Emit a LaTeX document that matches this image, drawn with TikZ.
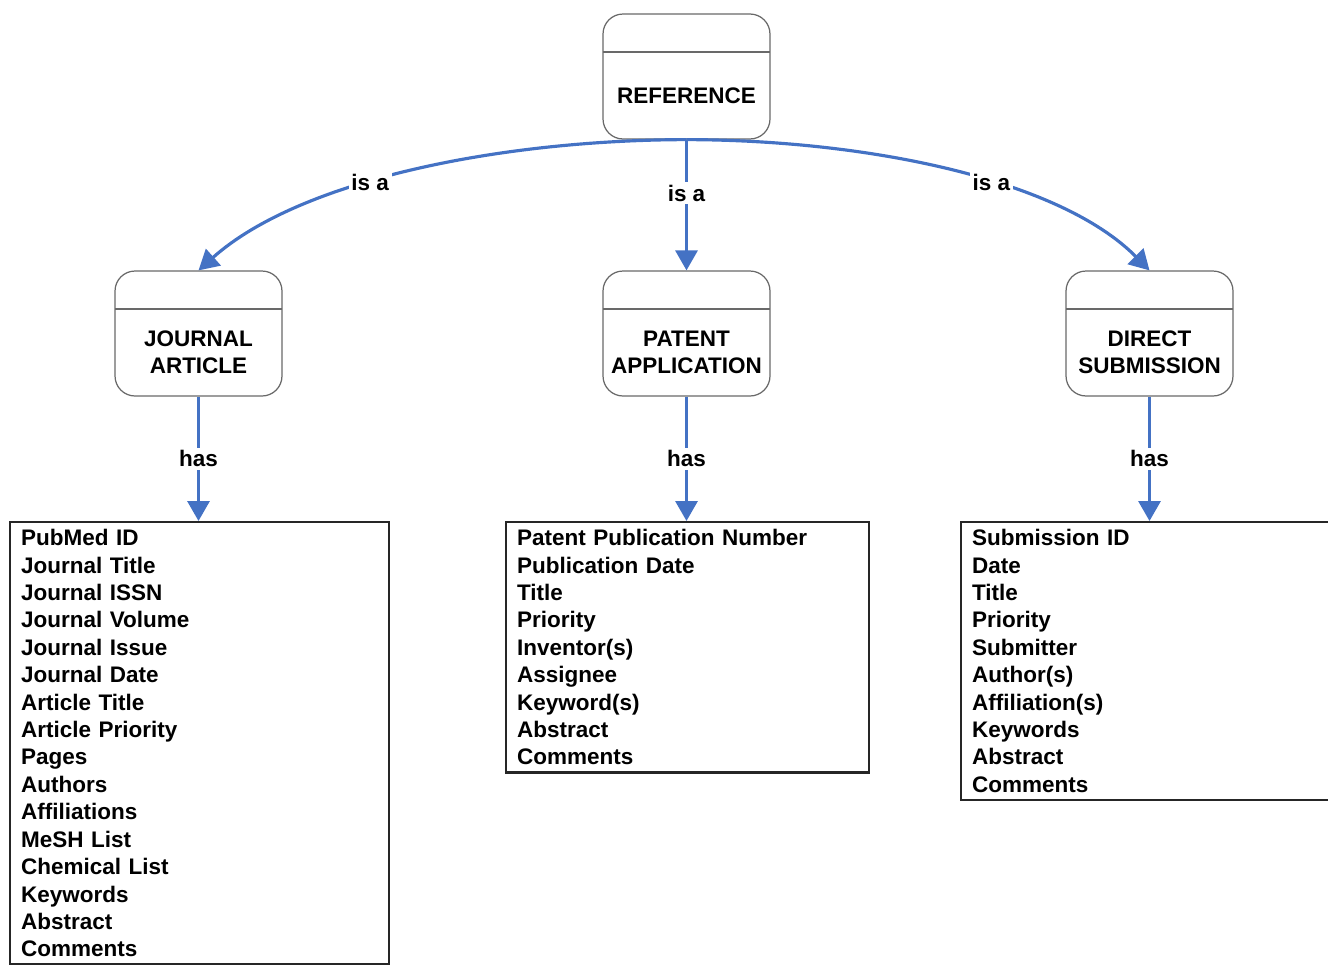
\documentclass[tikz,border=0pt]{standalone}
\usepackage{fontspec}
\setmainfont{Liberation Sans}
\usetikzlibrary{arrows.meta,positioning,calc}

\definecolor{linkblue}{RGB}{68,114,196}
\definecolor{boxgray}{RGB}{105,105,105}

\begin{document}
\begin{tikzpicture}[x=0.02cm, y=-0.02cm,
    entity/.style={draw=boxgray, line width=0.7pt, rounded corners=0.4cm, minimum width=3.34cm, minimum height=2.5cm, inner sep=0pt,
        path picture={\draw[boxgray, line width=0.7pt] ([yshift=-0.76cm]path picture bounding box.north west) -- ([yshift=-0.76cm]path picture bounding box.north east);}},
    etext/.style={align=center, inner sep=0pt, font=\fontsize{12.8pt}{15.6pt}\selectfont\bfseries},
    fieldbox/.style={draw=black!85, line width=1.3pt, anchor=north west, align=left, inner xsep=0.22cm, inner ysep=0.145cm, font=\fontsize{12.8pt}{15.6pt}\selectfont\bfseries},
    link/.style={linkblue, line width=1.8pt, -{Triangle[width=0.44cm,length=0.4cm]}},
    lbl/.style={fill=white, text=black, inner sep=1.5pt, font=\fontsize{12.8pt}{15.6pt}\selectfont\bfseries}
]
    \useasboundingbox (0,0) rectangle (1328,964);
    \clip (0,0) rectangle (1328,964);

    % Entities
    \node[entity] (ref) at (686.5,76.5) {};
    \node[etext] (refT) at ([yshift=-0.38cm]ref.center) {REFERENCE};
    \node[entity] (jrn) at (198.5,333.5) {};
    \node[etext] (jrnT) at ([yshift=-0.38cm]jrn.center) {JOURNAL\\ARTICLE};
    \node[entity] (pat) at (686.5,333.5) {};
    \node[etext] (patT) at ([yshift=-0.38cm]pat.center) {PATENT\\APPLICATION};
    \node[entity] (dir) at (1149.5,333.5) {};
    \node[etext] (dirT) at ([yshift=-0.38cm]dir.center) {DIRECT\\SUBMISSION};

    % Field lists
    \node[fieldbox, text width=7.14cm] (jrnF) at (9,521) {PubMed ID\\ Journal Title\\ Journal ISSN\\ Journal Volume\\ Journal Issue\\ Journal Date\\ Article Title\\ Article Priority\\ Pages\\ Authors\\ Affiliations\\ MeSH List\\ Chemical List\\ Keywords\\ Abstract\\ Comments};
    \node[fieldbox, text width=6.82cm] (patF) at (505,521) {Patent Publication Number\\ Publication Date\\ Title\\ Priority\\ Inventor(s)\\ Assignee\\ Keyword(s)\\ Abstract\\ Comments};
    \node[fieldbox, text width=8cm] (dirF) at (960,521) {Submission ID\\ Date\\ Title\\ Priority\\ Submitter\\ Author(s)\\ Affiliation(s)\\ Keywords\\ Abstract\\ Comments};

    % is a
    \draw[link] (ref.south) .. controls (500,140) and (300,180) .. (jrn.north) node[lbl, pos=0.58] (isaJ) {is a};
    \draw[link] (ref.south) -- node[lbl, pos=0.41] (isaP) {is a} (pat.north);
    \draw[link] (ref.south) .. controls (870,140) and (1060,180) .. (dir.north) node[lbl, pos=0.58] (isaD) {is a};

    % has
    \draw[link] (jrn.south) -- node[lbl] (hasJ) {has} (jrn.south |- jrnF.north);
    \draw[link] (pat.south) -- node[lbl] (hasP) {has} (pat.south |- patF.north);
    \draw[link] (dir.south) -- node[lbl] (hasD) {has} (dir.south |- dirF.north);
\end{tikzpicture}
\end{document}
